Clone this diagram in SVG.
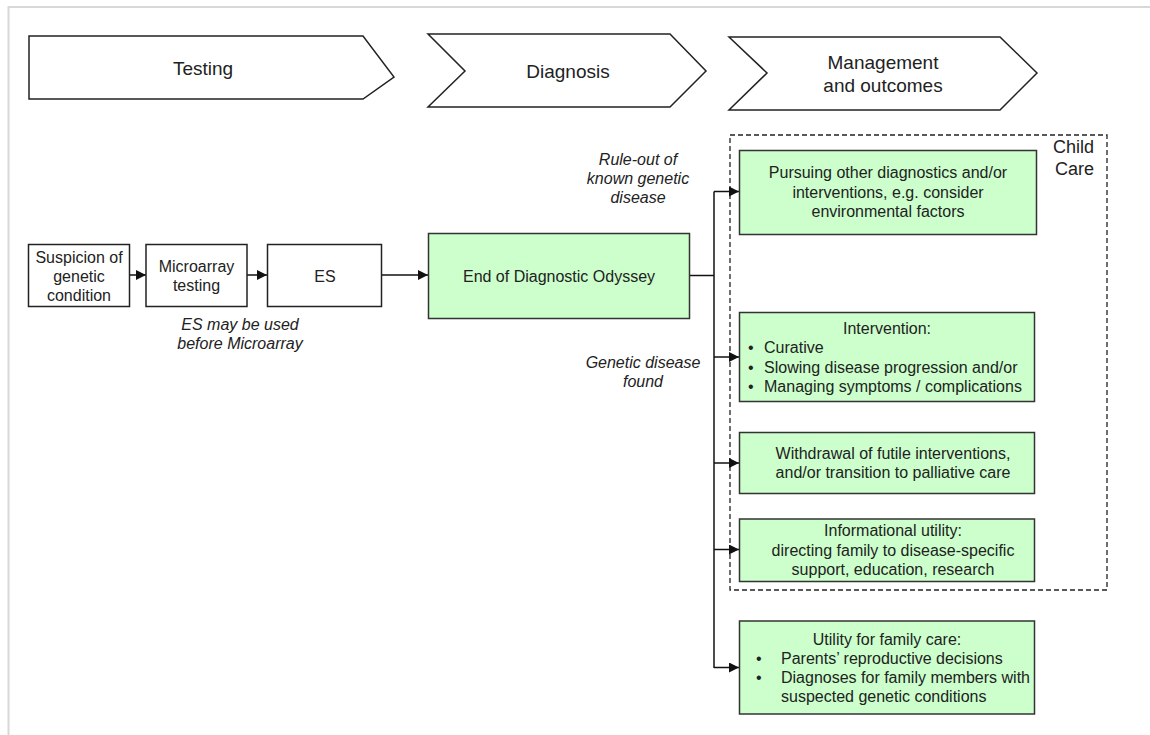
<svg xmlns="http://www.w3.org/2000/svg" width="1150" height="735" viewBox="0 0 1150 735">
<defs>
<style>
text{font-family:"Liberation Sans",Arial,sans-serif;fill:#222;}
.t{font-size:16px;text-anchor:middle;}
.tl{font-size:16px;}
.i{font-size:16px;font-style:italic;text-anchor:middle;}
.h{font-size:19px;text-anchor:middle;}
.box{fill:#fff;stroke:#222;stroke-width:1.5;}
.g{fill:#ccffcc;stroke:#333;stroke-width:1.5;}
.chev{fill:#fff;stroke:#222;stroke-width:1.5;stroke-linejoin:miter;}
.ln{fill:none;stroke:#111;stroke-width:1.5;}
</style>
<marker id="ah" viewBox="0 0 10 10" refX="10" refY="5" markerWidth="11" markerHeight="10" markerUnits="userSpaceOnUse" orient="auto">
<path d="M0,0 L10,5 L0,10 z" fill="#111"/>
</marker>
</defs>
<rect x="0" y="0" width="1150" height="735" fill="#fff"/>
<path d="M8.5,735 V7 H1150" fill="none" stroke="#d8d8d8" stroke-width="2"/>

<g id="stage-testing">
<polygon class="chev" points="29,36 363,36 394,77 363,99 29,99"/>
<text class="h" x="203" y="75">Testing</text>
</g>
<g id="stage-diagnosis">
<polygon class="chev" points="428,34 670,34 706,71 670,107 428,107 465,71"/>
<text class="h" x="568" y="78">Diagnosis</text>
</g>
<g id="stage-management">
<polygon class="chev" points="729,37 1000,37 1037,73 1000,110 729,110 767,73"/>
<text class="h" x="883" y="69">Management</text>
<text class="h" x="883" y="92">and outcomes</text>
</g>

<g id="child-care">
<rect x="730" y="135" width="377" height="455" fill="none" stroke="#222" stroke-width="1.3" stroke-dasharray="5,3"/>
<text x="1094" y="153" font-size="18" text-anchor="end">Child</text>
<text x="1094" y="175" font-size="18" text-anchor="end">Care</text>
</g>

<g id="connectors">
<line class="ln" x1="129" y1="275" x2="146" y2="275" marker-end="url(#ah)"/>
<line class="ln" x1="247" y1="275" x2="267" y2="275" marker-end="url(#ah)"/>
<line class="ln" x1="382" y1="275" x2="428" y2="275" marker-end="url(#ah)"/>
<line class="ln" x1="689" y1="275.5" x2="714" y2="275.5"/>
<line class="ln" x1="714" y1="191.5" x2="714" y2="668"/>
<line class="ln" x1="714" y1="191.5" x2="739" y2="191.5" marker-end="url(#ah)"/>
<line class="ln" x1="714" y1="357" x2="739" y2="357" marker-end="url(#ah)"/>
<line class="ln" x1="714" y1="463" x2="739" y2="463" marker-end="url(#ah)"/>
<line class="ln" x1="714" y1="549.5" x2="739" y2="549.5" marker-end="url(#ah)"/>
<line class="ln" x1="714" y1="667.5" x2="739" y2="667.5" marker-end="url(#ah)"/>
</g>

<g id="suspicion">
<rect class="box" x="28.5" y="244.5" width="101" height="62"/>
<text class="t" x="79" y="263">Suspicion of</text>
<text class="t" x="79" y="282">genetic</text>
<text class="t" x="79" y="301">condition</text>
</g>
<g id="microarray">
<rect class="box" x="146" y="244.5" width="101" height="62"/>
<text class="t" x="196.5" y="272">Microarray</text>
<text class="t" x="196.5" y="291">testing</text>
</g>
<g id="es">
<rect class="box" x="267.5" y="244.5" width="114" height="62"/>
<text class="t" x="325" y="282">ES</text>
</g>
<g id="es-note">
<text class="i" x="240" y="330">ES may be used</text>
<text class="i" x="240" y="349">before Microarray</text>
</g>

<g id="end-odyssey">
<rect class="g" x="428.5" y="233.5" width="261" height="85"/>
<text class="t" x="559" y="282">End of Diagnostic Odyssey</text>
</g>

<g id="label-ruleout">
<text class="i" x="638" y="165">Rule-out of</text>
<text class="i" x="638" y="184">known genetic</text>
<text class="i" x="638" y="203">disease</text>
</g>
<g id="label-found">
<text class="i" x="643" y="368">Genetic disease</text>
<text class="i" x="643" y="387">found</text>
</g>

<g id="pursuing">
<rect class="g" x="739.5" y="150.5" width="297" height="84"/>
<text class="t" x="888" y="178">Pursuing other diagnostics and/or</text>
<text class="t" x="888" y="197.5">interventions, e.g. consider</text>
<text class="t" x="888" y="216.5">environmental factors</text>
</g>

<g id="intervention">
<rect class="g" x="739.5" y="312.5" width="295" height="89"/>
<text class="t" x="887" y="334">Intervention:</text>
<text class="tl" x="748" y="353">•</text>
<text class="tl" x="764" y="353">Curative</text>
<text class="tl" x="748" y="372.5">•</text>
<text class="tl" x="764" y="372.5">Slowing disease progression and/or</text>
<text class="tl" x="748" y="391.5">•</text>
<text class="tl" x="764" y="391.5">Managing symptoms / complications</text>
</g>

<g id="withdrawal">
<rect class="g" x="739.5" y="432.5" width="295" height="61"/>
<text class="t" x="893" y="459">Withdrawal of futile interventions,</text>
<text class="t" x="893" y="478">and/or transition to palliative care</text>
</g>

<g id="informational">
<rect class="g" x="739.5" y="519" width="295" height="62.5"/>
<text class="t" x="893" y="536">Informational utility:</text>
<text class="t" x="893" y="555.5">directing family to disease-specific</text>
<text class="t" x="893" y="574.5">support, education, research</text>
</g>

<g id="family-care">
<rect class="g" x="739.5" y="621" width="295" height="93"/>
<text class="t" x="887" y="645">Utility for family care:</text>
<text class="tl" x="756" y="664">•</text>
<text class="tl" x="781" y="664">Parents’ reproductive decisions</text>
<text class="tl" x="756" y="683">•</text>
<text class="tl" x="781" y="683">Diagnoses for family members with</text>
<text class="tl" x="781" y="702">suspected genetic conditions</text>
</g>
</svg>
